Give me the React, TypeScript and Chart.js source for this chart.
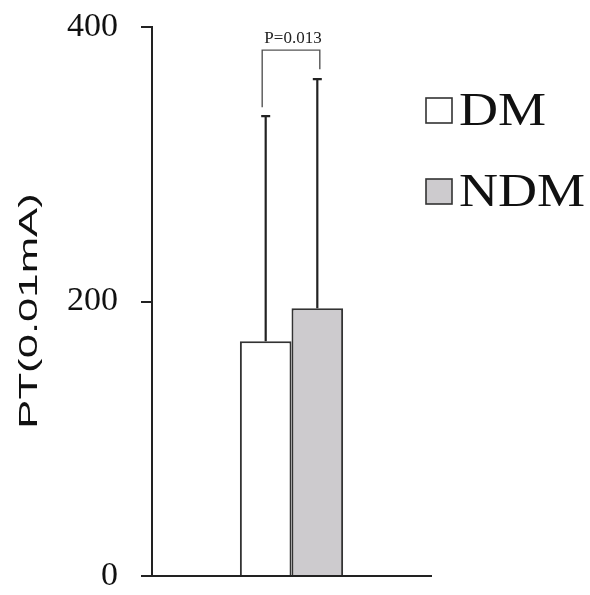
import React, { useEffect, useRef } from "react";
import { Chart, registerables } from "chart.js";

Chart.register(...registerables);

const CATEGORIES = [""];
const SERIES = ["DM", "NDM"];
const MEANS = [171, 195];
const SD = [164, 167];
const Y_TICKS = [0, 200, 400];
const P_LABEL = "P=0.013";
const Y_TITLE = "PT(0.01mA)";

const annotations = {
  id: "annotations",
  afterDatasetsDraw(chart: any) {
    const ctx = chart.ctx;
    const y = chart.scales.y;
    const tops: { x: number; y: number }[] = [];
    ctx.save();
    SERIES.forEach((_, i) => {
      const el = chart.getDatasetMeta(i).data[0];
      const x = el.x;
      const yTop = y.getPixelForValue(MEANS[i] + SD[i]);
      ctx.strokeStyle = "#222";
      ctx.lineWidth = 2.2;
      ctx.beginPath();
      ctx.moveTo(x, el.y);
      ctx.lineTo(x, yTop);
      ctx.moveTo(x - 4.5, yTop);
      ctx.lineTo(x + 4.5, yTop);
      ctx.stroke();
      tops.push({ x, y: yTop });
    });
    // significance bracket
    const lx = tops[0].x - 3.5;
    const rx = tops[1].x + 2.5;
    const topY = Math.min(tops[0].y, tops[1].y) - 29;
    ctx.strokeStyle = "#555";
    ctx.lineWidth = 1.4;
    ctx.beginPath();
    ctx.moveTo(lx, tops[0].y - 9);
    ctx.lineTo(lx, topY);
    ctx.lineTo(rx, topY);
    ctx.lineTo(rx, tops[1].y - 10);
    ctx.stroke();
    ctx.fillStyle = "#222";
    ctx.font = '17px "Liberation Serif"';
    ctx.textAlign = "center";
    ctx.textBaseline = "alphabetic";
    ctx.fillText(P_LABEL, (lx + rx) / 2 + 2, topY - 7);
    ctx.restore();
  },
  afterDraw(chart: any) {
    const ctx = chart.ctx;
    ctx.save();
    // y-axis title
    ctx.translate(37, 311);
    ctx.rotate(-Math.PI / 2);
    ctx.scale(1.7, 1);
    ctx.fillStyle = "#111";
    ctx.font = '25.7px "Liberation Sans"';
    ctx.textAlign = "center";
    ctx.textBaseline = "alphabetic";
    ctx.fillText(Y_TITLE, 0, 0);
    ctx.restore();

    // legend
    ctx.save();
    chart.data.datasets.forEach((ds: any, i: number) => {
      const bx = 426;
      const by = 98 + i * 81;
      ctx.fillStyle = ds.backgroundColor;
      ctx.fillRect(bx, by, 26, 25);
      ctx.strokeStyle = "#333";
      ctx.lineWidth = 1.6;
      ctx.strokeRect(bx, by, 26, 25);
      ctx.save();
      ctx.translate(459, by + 27);
      ctx.scale(1.15, 1);
      ctx.fillStyle = "#111";
      ctx.font = '47px "Liberation Serif"';
      ctx.textAlign = "left";
      ctx.textBaseline = "alphabetic";
      ctx.fillText(ds.label, 0, 0);
      ctx.restore();
    });
    ctx.restore();
  },
};

export default function App() {
  const ref = useRef<HTMLCanvasElement>(null);
  useEffect(() => {
    if (!ref.current) return;
    const chart = new Chart(ref.current, {
      type: "bar",
      data: {
        labels: CATEGORIES,
        datasets: [
          {
            label: SERIES[0],
            data: [MEANS[0]],
            backgroundColor: "#ffffff",
            borderColor: "#333",
            borderWidth: 2,
            categoryPercentage: 0.37,
            barPercentage: 1,
          },
          {
            label: SERIES[1],
            data: [MEANS[1]],
            backgroundColor: "#cdcbce",
            borderColor: "#333",
            borderWidth: 2,
            categoryPercentage: 0.37,
            barPercentage: 1,
          },
        ],
      },
      options: {
        responsive: false,
        animation: false,
        layout: { padding: { left: 67, right: 159, top: 27, bottom: 19 } },
        plugins: {
          legend: { display: false },
          tooltip: { enabled: false },
        },
        scales: {
          x: {
            grid: { display: false, drawTicks: false },
            ticks: { display: false },
            border: { display: true, color: "#222", width: 2 },
          },
          y: {
            min: Y_TICKS[0],
            max: Y_TICKS[Y_TICKS.length - 1],
            afterBuildTicks: (s: any) => {
              s.ticks = Y_TICKS.map((v) => ({ value: v }));
            },
            afterFit: (s: any) => {
              s.width = 85;
              s.paddingTop = 0;
              s.paddingBottom = 0;
            },
            grid: {
              drawOnChartArea: false,
              drawTicks: true,
              tickLength: 11,
              color: "#222",
              lineWidth: 2,
            },
            border: { display: true, color: "#222", width: 2 },
            ticks: {
              padding: 23,
              color: "#111",
              font: { family: "Liberation Serif", size: 34, lineHeight: 1 },
            },
          },
        },
      },
      plugins: [annotations],
    });
    return () => chart.destroy();
  }, []);
  return (
    <div style={{ position: "fixed", left: 0, top: 0, width: 590, height: 595, background: "#fff" }}>
      <canvas ref={ref} width={590} height={595} />
    </div>
  );
}
